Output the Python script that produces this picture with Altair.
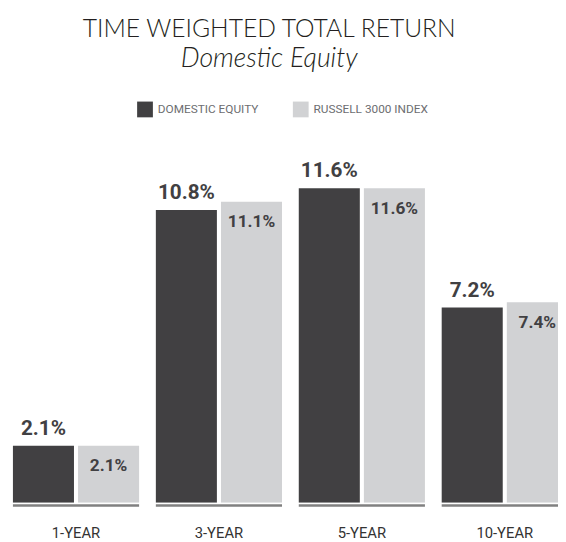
import altair as alt
import pandas as pd

periods = ["1-YEAR", "3-YEAR", "5-YEAR", "10-YEAR"]
series = ["DOMESTIC EQUITY", "RUSSELL 3000 INDEX"]
domestic = [2.1, 10.8, 11.6, 7.2]
russell = [2.1, 11.1, 11.6, 7.4]
colors = ["#414042", "#d1d2d4"]

rows = []
for p, d, r in zip(periods, domestic, russell):
    rows.append({"period": p, "series": series[0], "value": d, "label": f"{d:.1f}%"})
    rows.append({"period": p, "series": series[1], "value": r, "label": f"{r:.1f}%"})
df = pd.DataFrame(rows)
base_df = pd.DataFrame({"period": periods})

FONT = "Roboto, sans-serif"
W, H = 558, 376
PX_PER_UNIT = 27.5

xenc = alt.X(
    "period:N", sort=periods,
    scale=alt.Scale(range=[5, 568], paddingInner=17 / 145, paddingOuter=0),
    axis=alt.Axis(title=None, domain=False, ticks=False, labelAngle=0,
                  labelFont=FONT, labelFontSize=15, labelColor="#333333",
                  labelPadding=23),
)
xoff = alt.XOffset("series:N", sort=series,
                   scale=alt.Scale(domain=series, paddingInner=8 / 128, paddingOuter=0))
yenc = alt.Y("value:Q", scale=alt.Scale(domain=[0, H / PX_PER_UNIT]), axis=None)

bars = alt.Chart(df).mark_bar(clip=True).encode(
    x=xenc, xOffset=xoff, y=yenc,
    color=alt.Color("series:N", sort=series,
                    scale=alt.Scale(domain=series, range=colors),
                    legend=alt.Legend(title=None, orient="none", direction="horizontal",
                                      legendX=131, legendY=-31,
                                      symbolType="square", symbolSize=256,
                                      symbolStrokeWidth=0, symbolOpacity=1,
                                      labelFont=FONT, labelFontSize=12,
                                      labelColor="#6d6e71", labelOffset=5,
                                      columnPadding=34)),
)

dark_labels = alt.Chart(df).transform_filter(
    alt.datum.series == series[0]
).mark_text(font=FONT, fontSize=21, fontWeight="bold", color="#414042",
            baseline="alphabetic", dy=-11, clip=True).encode(
    x=xenc, xOffset=xoff, y=yenc, text="label:N")

light_labels = alt.Chart(df).transform_filter(
    alt.datum.series == series[1]
).mark_text(font=FONT, fontSize=17.5, fontWeight="bold", color="#414042",
            baseline="top", dy=12, clip=True).encode(
    x=xenc, xOffset=xoff, y=yenc, text="label:N")

baseline = alt.Chart(base_df).mark_rect(color="#808080").encode(
    x=xenc, y=alt.value(H + 1.5), y2=alt.value(H + 4))

chart = alt.layer(bars, baseline, dark_labels, light_labels).properties(
    width=W, height=H,
    padding={"left": 0, "top": 122, "right": 0, "bottom": 42},
    autosize=alt.AutoSizeParams(type="none"),
    title=alt.Title(
        "TIME WEIGHTED TOTAL RETURN", subtitle="Domestic Equity",
        anchor="middle", dx=-14, font="Lato", fontWeight=300, fontSize=25,
        color="#231f20", subtitleFont="Lato", subtitleFontStyle="italic",
        subtitleFontWeight=300, subtitleFontSize=27, subtitleColor="#231f20",
        subtitlePadding=4, offset=30,
    ),
).configure_view(strokeWidth=0)

chart.save("out.html", embed_options={"renderer": "svg", "actions": False})
